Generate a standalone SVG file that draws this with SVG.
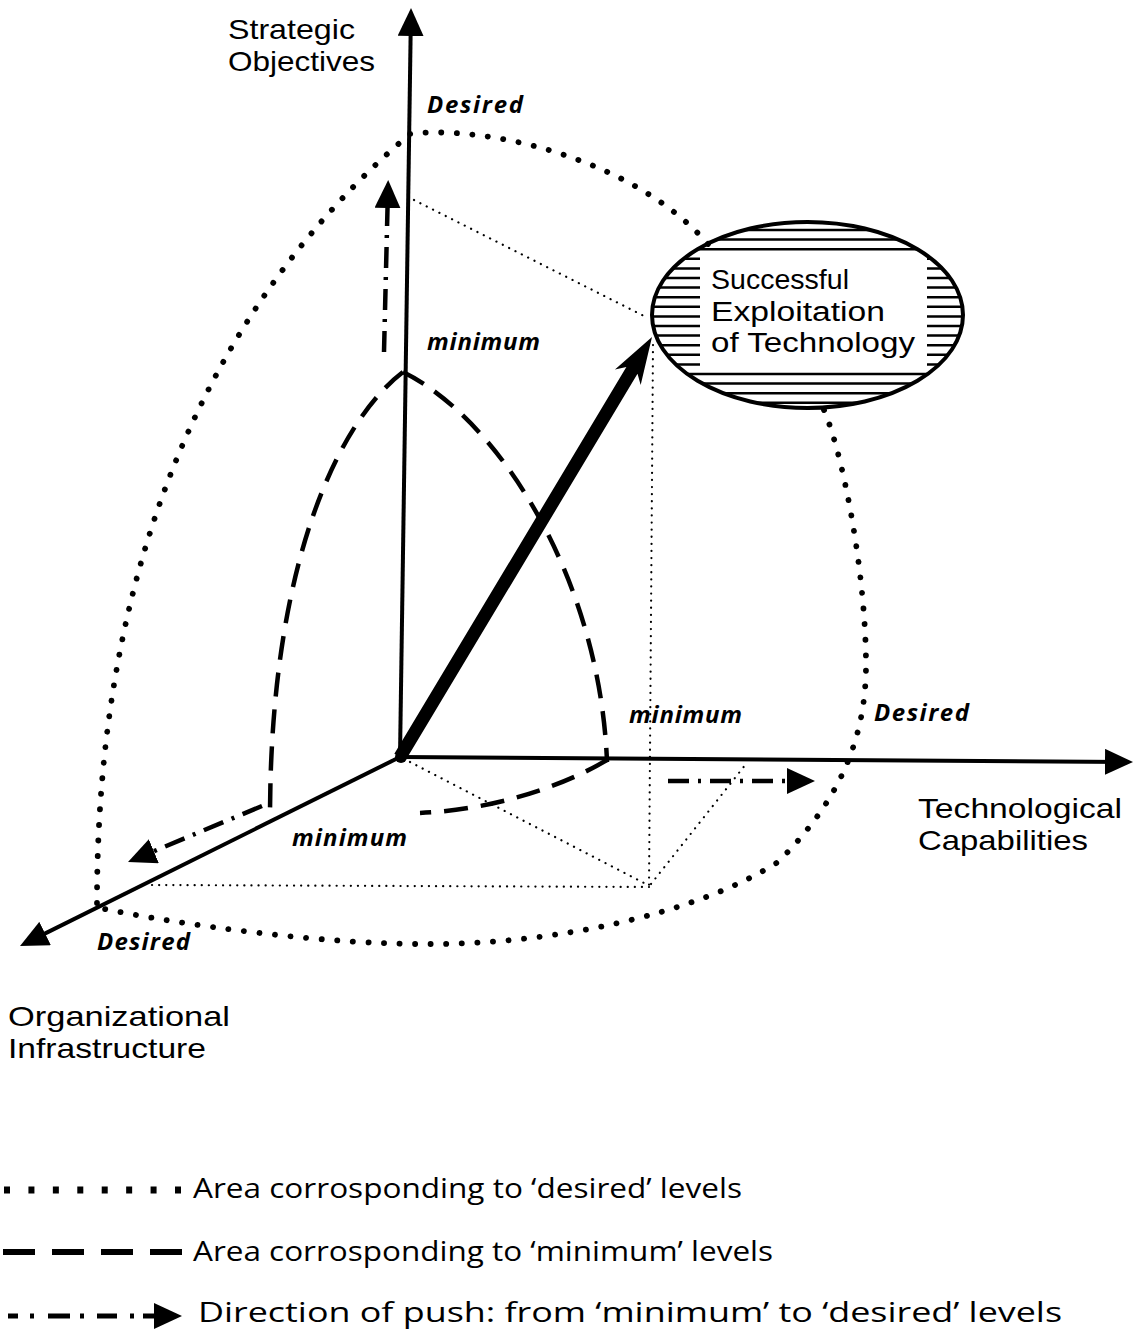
<svg xmlns="http://www.w3.org/2000/svg" width="1137" height="1338" viewBox="0 0 1137 1338">
  <style>
    .axis{stroke:#000;stroke-width:4;fill:none}
    .desired{stroke:#000;stroke-width:5.8;stroke-dasharray:0.1 15.5;stroke-linecap:round;fill:none}
    .minimum{stroke:#000;stroke-width:4.5;stroke-dasharray:24 13;fill:none}
    .push{stroke:#000;stroke-width:4.5;stroke-dasharray:21 9 3 9;fill:none}
    .proj{stroke:#000;stroke-width:2.2;stroke-dasharray:0.1 7;stroke-linecap:round;fill:none}
    .hatch{stroke:#000;stroke-width:2.5;fill:none}
    .lbl{font-family:"Liberation Sans","Open Sans",sans-serif;font-size:28px;fill:#000}
    .inner{font-family:"Liberation Sans","Open Sans",sans-serif;font-size:27px;fill:#000}
    .lvl{font-family:"Open Sans","Liberation Sans",sans-serif;font-size:24px;font-weight:700;font-style:italic;fill:#000}
    .leg{font-family:"Open Sans","Liberation Sans",sans-serif;font-size:28px;fill:#000}
  </style>
  <defs>
    <marker id="arr" markerUnits="userSpaceOnUse" viewBox="0 0 28 26" markerWidth="28" markerHeight="26" refX="20" refY="13" orient="auto">
      <path d="M0,0 L28,13 L0,26 Z" fill="#000"/>
    </marker>
    <clipPath id="ellclip">
      <ellipse cx="807.5" cy="315" rx="155.5" ry="93"/>
    </clipPath>
  </defs>

  <g id="connectors">
    <!-- axes -->
    <line class="axis" x1="400" y1="757" x2="410.9" y2="16" marker-end="url(#arr)"/>
    <line class="axis" x1="400" y1="757" x2="1125" y2="762" marker-end="url(#arr)"/>
    <line class="axis" x1="400" y1="757" x2="27.2" y2="942.4" marker-end="url(#arr)"/>
    <!-- desired area -->
    <path class="desired" d="M97,903 C97,493 260,261 410,134 C480,125 630,155 708,244"/>
    <path class="desired" d="M824,410 C845,460 866,580 866,665 C866,750 830,810 778,862 C700,912 560,944 430,944 C330,945 180,925 100,908"/>
    <!-- minimum area -->
    <path class="minimum" d="M403,372 C340,420 270,560 270,818"/>
    <path class="minimum" d="M403,372 C500,420 600,580 607,762"/>
    <path class="minimum" d="M607,760 C560,788 490,810 420,813"/>
    <!-- projection lines -->
    <line class="proj" x1="414" y1="200" x2="648" y2="318"/>
    <line class="proj" x1="653" y1="345" x2="649" y2="887"/>
    <line class="proj" x1="410" y1="762" x2="646" y2="884"/>
    <line class="proj" x1="152" y1="885" x2="649" y2="887"/>
    <line class="proj" x1="651" y1="884" x2="746" y2="764"/>
    <!-- push direction arrows -->
    <line class="push" x1="384" y1="352" x2="388" y2="188" marker-end="url(#arr)"/>
    <line class="push" x1="262" y1="806" x2="135.4" y2="858.9" marker-end="url(#arr)"/>
    <line class="push" x1="668" y1="781" x2="807" y2="781" marker-end="url(#arr)"/>
    <!-- main thick arrow -->
    <g transform="translate(652,337) rotate(-59.04)">
      <polygon points="0,0 -47,-15 -39,-6.5 -490,-6.5 -490,6.5 -39,6.5 -47,15" fill="#000"/>
    </g>
    <circle cx="401" cy="757" r="6" fill="#000"/>
  </g>

  <g id="node-success">
    <g clip-path="url(#ellclip)">
      <path class="hatch" d="M650,230 H966 M650,239.6 H966 M650,249.2 H966
        M650,258.8 H700 M927,258.8 H966
        M650,268.4 H700 M927,268.4 H966
        M650,278 H700 M927,278 H966
        M650,287.6 H700 M927,287.6 H966
        M650,297.2 H700 M927,297.2 H966
        M650,306.8 H700 M927,306.8 H966
        M650,316.4 H700 M927,316.4 H966
        M650,326 H700 M927,326 H966
        M650,335.6 H700 M927,335.6 H966
        M650,345.2 H700 M927,345.2 H966
        M650,354.8 H700 M927,354.8 H966
        M650,364.4 H700 M927,364.4 H966
        M650,374 H966 M650,383.6 H966 M650,393.2 H966 M650,402.8 H966"/>
    </g>
    <ellipse cx="807.5" cy="315" rx="155.5" ry="93" fill="none" stroke="#000" stroke-width="4"/>
    <text class="inner" x="711" y="289" textLength="138" lengthAdjust="spacingAndGlyphs">Successful</text>
    <text class="inner" x="711" y="320.5" textLength="174" lengthAdjust="spacingAndGlyphs">Exploitation</text>
    <text class="inner" x="711" y="352" textLength="204" lengthAdjust="spacingAndGlyphs">of Technology</text>
  </g>

  <g id="node-strategic">
    <text class="lbl" x="228" y="39" textLength="127" lengthAdjust="spacingAndGlyphs">Strategic</text>
    <text class="lbl" x="228" y="70.5" textLength="147" lengthAdjust="spacingAndGlyphs">Objectives</text>
  </g>
  <g id="node-technological">
    <text class="lbl" x="918" y="818" textLength="204" lengthAdjust="spacingAndGlyphs">Technological</text>
    <text class="lbl" x="918" y="849.5" textLength="170" lengthAdjust="spacingAndGlyphs">Capabilities</text>
  </g>
  <g id="node-organizational">
    <text class="lbl" x="8" y="1026" textLength="222" lengthAdjust="spacingAndGlyphs">Organizational</text>
    <text class="lbl" x="8" y="1057.5" textLength="198" lengthAdjust="spacingAndGlyphs">Infrastructure</text>
  </g>

  <g id="level-labels">
    <text class="lvl" x="427" y="113" textLength="96" lengthAdjust="spacing">Desired</text>
    <text class="lvl" x="427" y="350" textLength="113" lengthAdjust="spacing">minimum</text>
    <text class="lvl" x="629" y="723" textLength="113" lengthAdjust="spacing">minimum</text>
    <text class="lvl" x="874" y="721" textLength="95" lengthAdjust="spacing">Desired</text>
    <text class="lvl" x="292" y="846" textLength="115" lengthAdjust="spacing">minimum</text>
    <text class="lvl" x="97" y="950" textLength="93" lengthAdjust="spacing">Desired</text>
  </g>

  <g id="legend">
    <line x1="4" y1="1190" x2="181" y2="1190" stroke="#000" stroke-width="7" stroke-dasharray="6 18.43"/>
    <text class="leg" x="193" y="1198" textLength="549" lengthAdjust="spacingAndGlyphs">Area corrosponding to ‘desired’ levels</text>
    <line x1="3" y1="1252" x2="182" y2="1252" stroke="#000" stroke-width="6" stroke-dasharray="32 17"/>
    <text class="leg" x="193" y="1261" textLength="580" lengthAdjust="spacingAndGlyphs">Area corrosponding to ‘minimum’ levels</text>
    <path d="M8,1316 H18 M30,1316 H34 M48,1316 H70 M80,1316 H84 M97,1316 H117 M130,1316 H134 M143,1316 H174" stroke="#000" stroke-width="5" fill="none" marker-end="url(#arr)"/>
    <text class="leg" x="198" y="1322" textLength="864" lengthAdjust="spacingAndGlyphs">Direction of push: from ‘minimum’ to ‘desired’ levels</text>
  </g>
</svg>
